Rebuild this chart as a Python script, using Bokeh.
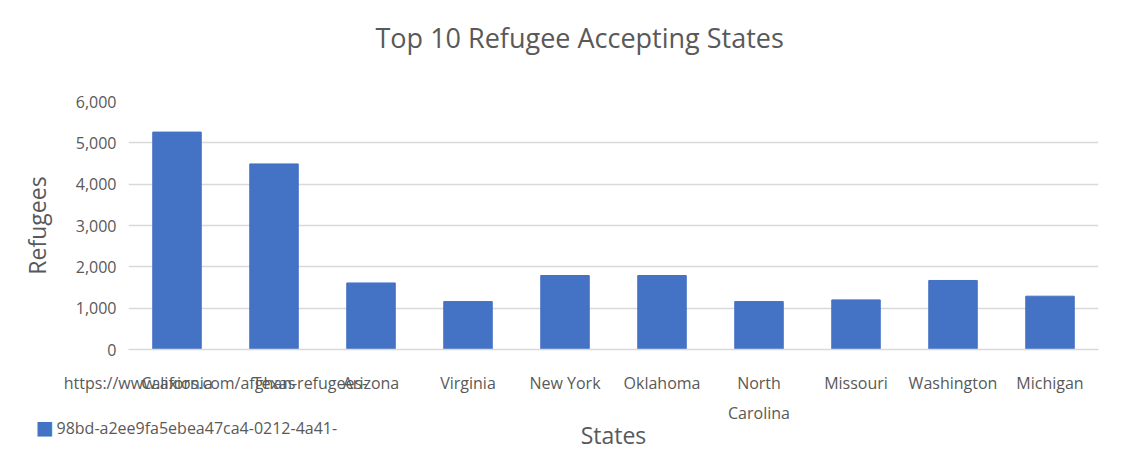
from bokeh.plotting import figure
from bokeh.models import (ColumnDataSource, FixedTicker, NumeralTickFormatter, Range1d,
                          FactorRange, LinearAxis, Title)
from bokeh.embed import file_html
from bokeh.resources import INLINE

states = ["California", "Texas", "Arizona", "Virginia", "New York", "Oklahoma",
          "North Carolina", "Missouri", "Washington", "Michigan"]
refugees = [5260, 4490, 1610, 1160, 1790, 1790, 1160, 1200, 1670, 1290]
y_ticks = [0, 1000, 2000, 3000, 4000, 5000, 6000]
title_text = "Top 10 Refugee Accepting States"
x_title = "States"
y_title = "Refugees"
series_line1 = "https://www.axios.com/afghan-refugees-"
series_line2 = "98bd-a2ee9fa5ebea47ca4-0212-4a41-"

GRAY = "#595959"
BLUE = "#4472C4"
FONT = "Open Sans"

source = ColumnDataSource(dict(states=states, refugees=refugees))

p = figure(x_range=FactorRange(*states), y_range=Range1d(0, 6000), width=1127, height=456,
           x_axis_type=None, title=None, output_backend="svg", toolbar_location=None, tools="",
           min_border_left=128, min_border_right=29, min_border_top=101, min_border_bottom=107)
p.outline_line_color = None
p.background_fill_color = "white"
p.border_fill_color = "white"

r = p.vbar(x="states", top="refugees", width=0.5, source=source,
           fill_color=BLUE, line_color=BLUE)

# category centres on the factor range (synthetic coordinates)
centers = [i + 0.5 for i in range(len(states))]

# ---- title (an empty axis band keeps it at the top of the chart area) ----
spacer = LinearAxis(ticker=FixedTicker(ticks=[centers[0]]),
                    major_label_overrides={centers[0]: ""},
                    axis_line_color=None, major_tick_line_color=None,
                    minor_tick_line_color=None, major_tick_out=46, major_tick_in=0,
                    minor_tick_out=0, major_label_standoff=0)
p.add_layout(spacer, "above")
p.add_layout(Title(text=title_text, align="left", offset=247, standoff=0,
                   vertical_align="bottom", text_font=FONT, text_font_size="27px",
                   text_font_style="normal", text_color=GRAY), "above")

p.xgrid.grid_line_color = None
p.ygrid.grid_line_color = "#D9D9D9"
p.ygrid.grid_line_width = 1.5

p.yaxis.ticker = FixedTicker(ticks=y_ticks)
p.yaxis.formatter = NumeralTickFormatter(format="0,0")
p.yaxis.axis_line_color = None
p.yaxis.major_tick_line_color = None
p.yaxis.minor_tick_line_color = None
p.yaxis.major_tick_out = 0
p.yaxis.minor_tick_out = 0
p.yaxis.major_label_standoff = 12
p.yaxis.major_label_text_font = FONT
p.yaxis.major_label_text_font_size = "16px"
p.yaxis.major_label_text_color = GRAY
p.yaxis.axis_label = y_title
p.yaxis.axis_label_text_font = FONT
p.yaxis.axis_label_text_font_size = "23px"
p.yaxis.axis_label_text_font_style = "normal"
p.yaxis.axis_label_text_color = GRAY
p.yaxis.axis_label_standoff = 20

first_line = {}
second_line = {}
for c, name in zip(centers, states):
    if len(name) > 12:
        a, b = name.split(" ", 1)
        first_line[c] = a
        second_line[c] = b
    else:
        first_line[c] = name

# Excel's legend text spilled under the first categories
url_pos = 0.897

def style_axis(ax, standoff):
    ax.major_tick_line_color = None
    ax.minor_tick_line_color = None
    ax.major_tick_out = 0
    ax.major_tick_in = 0
    ax.minor_tick_out = 0
    ax.major_label_standoff = standoff
    ax.major_label_text_font = FONT
    ax.major_label_text_font_size = "16px"
    ax.major_label_text_color = GRAY

ax1 = LinearAxis(ticker=FixedTicker(ticks=centers + [url_pos]),
                 major_label_overrides={**first_line, url_pos: series_line1})
style_axis(ax1, 22)
ax1.axis_line_color = "#D9D9D9"
ax1.axis_line_width = 1.5
p.add_layout(ax1, "below")

ax2 = LinearAxis(ticker=FixedTicker(ticks=list(second_line.keys())),
                 major_label_overrides=second_line)
style_axis(ax2, 5)
ax2.axis_line_color = None
p.add_layout(ax2, "below")

# legend key (blue swatch + second text line) and the x-axis title
p.add_layout(Title(text=series_line2, align="left", offset=-72, standoff=-24,
                   vertical_align="bottom", text_font=FONT, text_font_size="16px",
                   text_font_style="normal", text_color=GRAY), "below")
p.add_layout(Title(text="\u25A0", align="left", offset=-93, standoff=-43,
                   vertical_align="middle", text_font=FONT, text_font_size="30px",
                   text_font_style="normal", text_color=BLUE), "below")
p.add_layout(Title(text=x_title, align="center", offset=0, standoff=-16,
                   vertical_align="top", text_font=FONT, text_font_size="23px",
                   text_font_style="normal", text_color=GRAY), "below")

open("out.html", "w").write(file_html(p, INLINE))
